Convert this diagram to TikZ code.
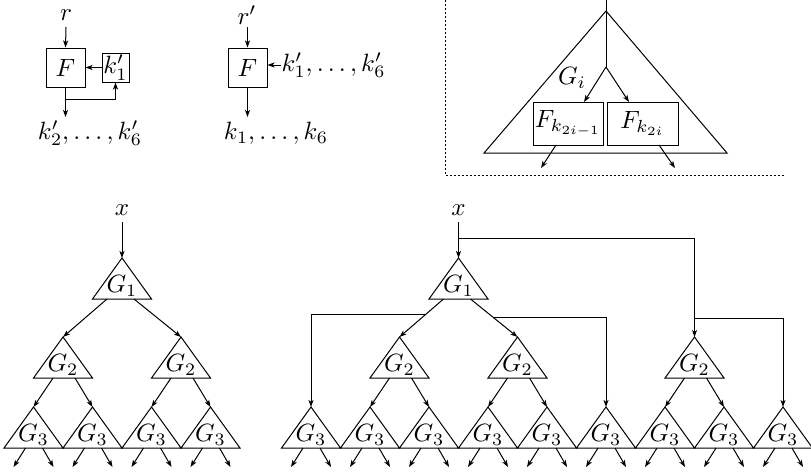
\documentclass[tikz,border=0pt]{standalone}
\usetikzlibrary{arrows.meta,calc}
\tikzset{
  arr/.style={-{Stealth[length=2.8pt,width=2pt,inset=0.7pt]}},
  boxF/.style={draw,inner sep=0pt},
  dotline/.style={dash pattern=on 0.8pt off 0.8pt},
  lbl/.style={inner sep=0pt}
}
\newcommand\gtri[4]{%
  \draw (#2,#3) -- (#2-29.5,#3+41) -- (#2+29.5,#3+41) -- cycle;
  \node[lbl] (#1) at (#2,#3+28) {$#4$};
  \coordinate (#1-t) at (#2,#3);
  \coordinate (#1-b) at (#2,#3+41);
}
\newcommand\gout[3]{% name cx ay : two output arrows of a G3
  \coordinate (#1-ol) at (#2-8,#3+41);
  \coordinate (#1-or) at (#2+9,#3+41);
  \coordinate (#1-el) at (#2-20,#3+60);
  \coordinate (#1-er) at (#2+20,#3+60);
  \draw[arr] (#1-ol) -- (#1-el);
  \draw[arr] (#1-or) -- (#1-er);
}
\begin{document}
\begin{tikzpicture}[x=0.4pt,y=-0.4pt]
\useasboundingbox (0,0) rectangle (811,474);

% ---------- top left ----------
\node[lbl] (r) at (66,15) {$r$};
\node[boxF,minimum width=39*0.4pt,minimum height=39*0.4pt] (F1) at (65.5,67.5) {$F$};
\node[boxF,minimum width=27*0.4pt,minimum height=29*0.4pt] (K1) at (115.5,67.5) {$k_1'$};
\node[lbl] (out1) at (90,133) {$k_2',\ldots,k_6'$};
\coordinate (r-e) at (66,27);
\draw[arr] (r-e) -- (F1.north);
\draw[arr] (K1.west) -- (F1.east);
\coordinate (o1) at (65.5,117);
\draw[arr] (F1.south) -- (o1);
\coordinate (j1) at (65.5,99);
\draw[arr] (j1) -| (K1.south);

% ---------- top middle ----------
\node[lbl] (r2) at (247,15) {$r'$};
\node[boxF,minimum width=39*0.4pt,minimum height=39*0.4pt] (F2) at (247.5,67.5) {$F$};
\node[lbl,anchor=west] (kin) at (281,65) {$k_1',\ldots,k_6'$};
\node[lbl] (out2) at (276,133) {$k_1,\ldots,k_6$};
\coordinate (r2-e) at (247.5,27);
\draw[arr] (r2-e) -- (F2.north);
\draw[arr] (kin.west) -- (F2.east |- kin.west);
\coordinate (o2) at (247.5,117);
\draw[arr] (F2.south) -- (o2);

% ---------- top right (G_i detail) ----------
\coordinate (d1) at (445,0);
\coordinate (d2) at (445,175);
\coordinate (d3) at (785,175);
\draw[dotline] (d1) -- (d2) -- (d3);
\draw (606,11) -- (484,153) -- (727,153) -- cycle;
\node[lbl] (Gi) at (572,78) {$G_i$};
\coordinate (top) at (606,0);
\coordinate (split) at (606,67);
\draw (top) -- (split);
\node[boxF,minimum width=70*0.4pt,minimum height=43*0.4pt] (Fa) at (568,123.5) {$F_{k_{2i-1}}$};
\node[boxF,minimum width=71*0.4pt,minimum height=43*0.4pt] (Fb) at (642.5,123.5) {$F_{k_{2i}}$};
\coordinate (Fa-in) at (584,102);
\coordinate (Fb-in) at (629,102);
\draw[arr] (split) -- (Fa-in);
\draw[arr] (split) -- (Fb-in);
\coordinate (Fa-o) at (556,145);
\coordinate (Fb-o) at (659,145);
\coordinate (Fa-e) at (541,168);
\coordinate (Fb-e) at (675,168);
\draw[arr] (Fa-o) -- (Fa-e);
\draw[arr] (Fb-o) -- (Fb-e);

% ---------- bottom left tree ----------
\node[lbl] (x1) at (122,210) {$x$};
\gtri{L1}{122}{258}{G_1}
\gtri{L2a}{63}{337}{G_2}
\gtri{L2b}{181}{337}{G_2}
\foreach \i/\c in {0/33.5,1/92.5,2/151.5,3/210.5}{
  \gtri{L3\i}{\c}{407}{G_3}
  \gout{L3\i}{\c}{407}
}
\coordinate (x1-e) at (122,222);
\draw[arr] (x1-e) -- (L1-t);
\draw[arr] ($(L1-b)+(-15,0)$) -- (L2a-t);
\draw[arr] ($(L1-b)+(12,0)$) -- (L2b-t);
\draw[arr] ($(L2a-b)+(-10,0)$) -- (L30-t);
\draw[arr] ($(L2a-b)+(12,0)$) -- (L31-t);
\draw[arr] ($(L2b-b)+(-10,0)$) -- (L32-t);
\draw[arr] ($(L2b-b)+(12,0)$) -- (L33-t);

% ---------- bottom right tree ----------
\node[lbl] (x2) at (458.5,210) {$x$};
\gtri{R1}{458.5}{258}{G_1}
\gtri{R2a}{399.5}{337}{G_2}
\gtri{R2b}{517.5}{337}{G_2}
\gtri{R2c}{694.5}{337}{G_2}
\foreach \i in {0,...,8}{
  \pgfmathsetmacro\c{311+59*\i}
  \gtri{R3\i}{\c}{407}{G_3}
  \gout{R3\i}{\c}{407}
}
\coordinate (x2-e) at (458.5,222);
\draw[arr] (x2-e) -- (R1-t);
\coordinate (j0) at (458.5,238);
\draw[arr] (j0) -| (R2c-t);
\coordinate (R1-ol) at ($(R1-b)+(-15,0)$);
\coordinate (R1-or) at ($(R1-b)+(12,0)$);
\draw[arr] (R1-ol) -- (R2a-t);
\draw[arr] (R1-or) -- (R2b-t);
\coordinate (ja) at ($(R1-ol)!0.405!(R2a-t)$);
\coordinate (jb) at ($(R1-or)!0.486!(R2b-t)$);
\draw[arr] (ja) -| (R30-t);
\draw[arr] (jb) -| (R35-t);
\coordinate (jc) at (694.5,318);
\draw[arr] (jc) -| (R38-t);
\draw[arr] ($(R2a-b)+(-10,0)$) -- (R31-t);
\draw[arr] ($(R2a-b)+(12,0)$) -- (R32-t);
\draw[arr] ($(R2b-b)+(-10,0)$) -- (R33-t);
\draw[arr] ($(R2b-b)+(12,0)$) -- (R34-t);
\draw[arr] ($(R2c-b)+(-10,0)$) -- (R36-t);
\draw[arr] ($(R2c-b)+(12,0)$) -- (R37-t);
\end{tikzpicture}
\end{document}
